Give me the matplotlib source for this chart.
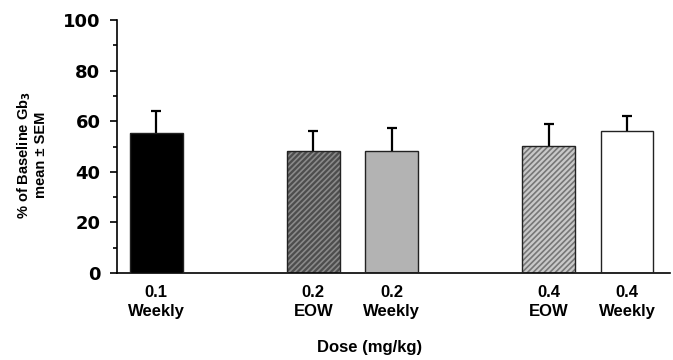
import matplotlib.pyplot as plt
import numpy as np

# dose groups
labels = ['0.1\nWeekly', '0.2\nEOW', '0.2\nWeekly', '0.4\nEOW', '0.4\nWeekly']
positions = [0, 2, 3, 5, 6]
means = [55.3, 48.2, 48.2, 50.3, 56.1]
upper = [64.0, 56.1, 57.4, 58.9, 62.0]
sem = [u - m for u, m in zip(upper, means)]

faces = ['black', '#4d4d4d', '#b3b3b3', '#c9c9c9', 'white']
hatches = [None, '//////', None, '//////', None]
hatch_cols = ['black', '#8a8a8a', '#b3b3b3', '#777777', 'white']

plt.rcParams['font.family'] = ['Liberation Sans', 'DejaVu Sans']
plt.rcParams['hatch.linewidth'] = 1.2

fig = plt.figure(figsize=(6.73, 3.6), dpi=100)
ax = fig.add_axes([0.174, 0.242, 0.822, 0.702])

for x, m, f, h, hc in zip(positions, means, faces, hatches, hatch_cols):
    # fill + hatch first, then outline on top
    ax.bar(x, m, width=0.67, color=f, edgecolor=hc, hatch=h, linewidth=0, zorder=2)
    ax.bar(x, m, width=0.67, facecolor='none', edgecolor='#222222', linewidth=1, zorder=3)

eb = ax.errorbar(positions, means, yerr=[np.zeros(len(sem)), sem], fmt='none',
                 ecolor='black', elinewidth=1.6, capsize=3.5, capthick=1.6, zorder=1)
eb[1][0].set_visible(False)  # no lower cap

ax.set_ylim(0, 100)
ax.set_xlim(-0.5, 6.55)
ax.set_yticks(range(0, 101, 20))
ax.set_yticks(range(10, 100, 20), minor=True)
ax.tick_params(axis='y', which='major', length=5, width=1.2, pad=7)
ax.tick_params(axis='y', which='minor', length=3, width=1.2)
ax.set_yticklabels([str(v) for v in range(0, 101, 20)], fontsize=13,
                   fontweight='bold', family='DejaVu Sans')

ax.set_xticks(positions)
ax.set_xticklabels(labels, fontsize=12, fontweight='bold', linespacing=1.3)
ax.tick_params(axis='x', length=0, pad=9)

ax.spines['top'].set_visible(False)
ax.spines['right'].set_visible(False)
ax.spines['left'].set_linewidth(1.2)
ax.spines['bottom'].set_linewidth(1.2)

ax.set_ylabel('% of Baseline Gb$_\\mathbf{3}$\nmean ± SEM', fontsize=10.5,
              fontweight='bold', linespacing=1.05)
ax.yaxis.set_label_coords(-0.125, 0.466)
ax.set_xlabel('Dose (mg/kg)', fontsize=12, fontweight='bold')
ax.xaxis.set_label_coords(0.456, -0.265)

plt.savefig('out.png', dpi=100)
